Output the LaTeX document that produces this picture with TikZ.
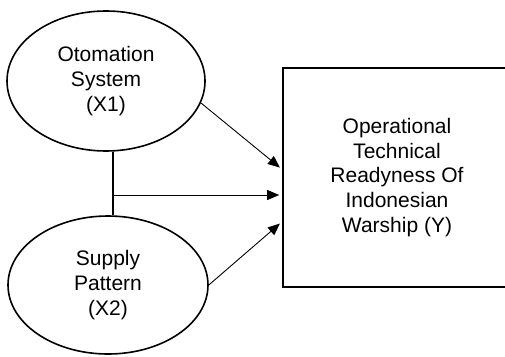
\documentclass[tikz,border=0pt]{standalone}
\usepackage{fontspec}
\setmainfont{Liberation Sans}
\usetikzlibrary{shapes.geometric,arrows.meta}
\begin{document}
\begin{tikzpicture}[
   x=1pt,y=-1pt,
   font=\fontsize{21}{24.6}\selectfont,
   latent/.style={draw,ellipse,line width=1.6pt,inner sep=0pt,align=center},
   construct/.style={draw,rectangle,line width=1.6pt,minimum width=228pt,minimum height=219pt,align=center},
   to/.style={-{Triangle[length=12pt,width=10pt]},line width=0.9pt,shorten >=3pt},
   link/.style={line width=1.2pt}]
\useasboundingbox[fill=white] (0,0) rectangle (505,356);
\node[latent,minimum width=198pt,minimum height=140pt] (X1) at (106,81) {Otomation\\System\\(X1)};
\node[latent,minimum width=200pt,minimum height=138pt] (X2) at (108,285) {Supply\\Pattern\\(X2)};
\node[construct] (Y) at (397,177.5) {Operational\\Technical\\Readyness Of\\Indonesian\\Warship (Y)};
\coordinate (J) at (113,195);
\draw[link] (J |- X1.south) -- (J |- X2.north);
\draw[to]  (J) to (J -| Y.west);
\draw[to]  (X1.347) to (Y.176);
\draw[to]  (X2.east) to (Y.201);
\end{tikzpicture}
\end{document}
